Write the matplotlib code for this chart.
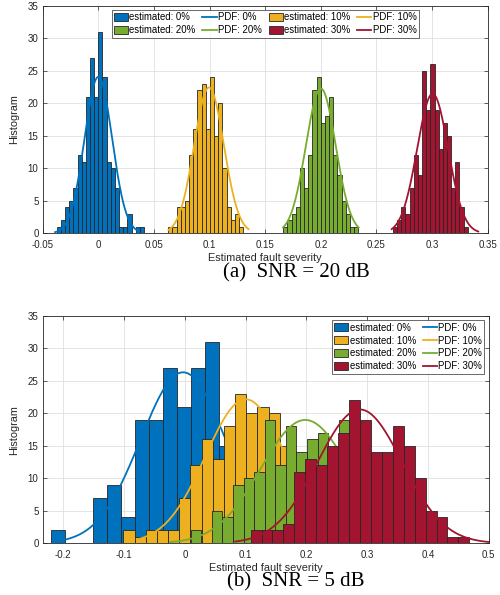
import matplotlib
matplotlib.use("Agg")
import matplotlib.pyplot as plt
import numpy as np

plt.rcParams["font.family"] = ["Liberation Sans", "DejaVu Sans"]

COLORS = ["#0072BD", "#EDB120", "#77AC30", "#A2142F"]
LEVELS = ["0%", "10%", "20%", "30%"]
N_SAMPLES = 200
TXT = "#262626"

# --- (a) SNR = 20 dB -------------------------------------------------------
a_start = [-0.0374, 0.0629, 0.1663, 0.2648]
a_width = [0.00374, 0.00374, 0.00374, 0.00374]
a_blue = [1, 2, 4, 5, 7, 12, 11, 21, 27, 21, 31, 24, 11, 10, 7, 1, 1, 3, 0, 1, 1]
a_yellow = [1, 1, 4, 4, 5, 12, 16, 22, 23, 16, 24, 15, 20, 10, 4, 2, 3, 1]
a_green = [1, 2, 3, 4, 10, 7, 12, 22, 24, 17, 18, 21, 12, 9, 5, 3, 1, 1]
a_red = [1, 2, 4, 3, 7, 12, 9, 25, 19, 26, 19, 13, 17, 15, 7, 11, 4, 1]
a_mu = [0.0, 0.0995, 0.2, 0.3005]
a_sigma = [0.0124, 0.0133, 0.0134, 0.0139]
a_lo = [-0.0389, 0.063, 0.166, 0.2637]
a_hi = [0.036, 0.135, 0.234, 0.3415]
a_xticks = [-0.05, 0, 0.05, 0.1, 0.15, 0.2, 0.25, 0.3, 0.35]
a_xticklabels = ["-0.05", "0", "0.05", "0.1", "0.15", "0.2", "0.25", "0.3", "0.35"]

# --- (b) SNR = 5 dB --------------------------------------------------------
b_start = [-0.2207, -0.1013, 0.0096, 0.1081]
b_width = [0.0231, 0.0184, 0.0174, 0.0180]
b_blue = [2, 0, 0, 7, 9, 4, 19, 19, 27, 21, 27, 31, 15, 9, 6, 3, 1]
b_yellow = [2, 1, 2, 2, 2, 7, 12, 16, 13, 18, 23, 20, 21, 20, 15, 10, 8, 5, 2, 1]
b_green = [2, 0, 5, 4, 9, 10, 11, 19, 12, 18, 14, 16, 17, 14, 19, 10, 8, 6, 4, 2]
b_red = [2, 2, 2, 3, 11, 13, 12, 15, 17, 22, 19, 14, 14, 18, 15, 10, 5, 4, 1, 1]
b_mu = [-0.003, 0.1, 0.198, 0.288]
b_sigma = [0.070, 0.0662, 0.0731, 0.0697]
b_lo = [-0.197, -0.079, -0.024, 0.083]
b_hi = [0.2, 0.3, 0.42, 0.5]
b_xticks = [-0.2, -0.1, 0, 0.1, 0.2, 0.3, 0.4, 0.5]
b_xticklabels = ["-0.2", "-0.1", "0", "0.1", "0.2", "0.3", "0.4", "0.5"]

y_ticks = [0, 5, 10, 15, 20, 25, 30, 35]


def draw_panel(ax, starts, widths, counts, mus, sigmas, los, his, xlim, xticks, xticklabels):
    handles = []
    for i, cnt in enumerate(counts):
        cnt = np.asarray(cnt, dtype=float)
        left = starts[i] + widths[i] * np.arange(len(cnt))
        bars = ax.bar(left, cnt, width=widths[i], align="edge", color=COLORS[i],
                      edgecolor=TXT, linewidth=0.6, label=f"estimated: {LEVELS[i]}", zorder=2)
        # fitted normal pdf scaled to the histogram counts
        x = np.linspace(los[i], his[i], 300)
        pdf = np.exp(-0.5 * ((x - mus[i]) / sigmas[i]) ** 2) / (sigmas[i] * np.sqrt(2 * np.pi))
        line, = ax.plot(x, pdf * N_SAMPLES * widths[i], color=COLORS[i], lw=1.3,
                        label=f"PDF: {LEVELS[i]}", zorder=2)
        handles += [bars, line]
    ax.set_xlim(*xlim)
    ax.set_ylim(0, 35)
    ax.set_xticks(xticks)
    ax.set_xticklabels(xticklabels)
    ax.set_yticks(y_ticks)
    ax.grid(True, color="#DFDFDF", lw=0.6, zorder=0)
    ax.set_axisbelow(True)
    ax.tick_params(direction="in", length=3, width=0.5, top=True, right=True,
                   labelsize=7, colors=TXT, pad=4.5)
    ax.tick_params(axis="y", pad=3)
    for s in ax.spines.values():
        s.set_color(TXT)
        s.set_linewidth(0.6)
    ax.set_xlabel("Estimated fault severity", fontsize=7.8, color=TXT)
    ax.set_ylabel("Histogram", fontsize=7.8, color=TXT)
    ax.xaxis.set_label_coords(0.5, -0.088)
    ax.yaxis.set_label_coords(-0.052, 0.5)
    return handles


fig = plt.figure(figsize=(5.0, 5.95), dpi=100)
ax_a = fig.add_axes([0.0854, 0.6079, 0.89, 0.3824])
ax_b = fig.add_axes([0.0854, 0.0869, 0.892, 0.382])

h_a = draw_panel(ax_a, a_start, a_width, [a_blue, a_yellow, a_green, a_red],
                 a_mu, a_sigma, a_lo, a_hi, (-0.05, 0.35), a_xticks, a_xticklabels)
h_b = draw_panel(ax_b, b_start, b_width, [b_blue, b_yellow, b_green, b_red],
                 b_mu, b_sigma, b_lo, b_hi, (-0.234, 0.5), b_xticks, b_xticklabels)

leg_kw = dict(fontsize=6.9, frameon=True, fancybox=False, handlelength=1.5, handleheight=0.9,
              handletextpad=0.12, columnspacing=0.7, labelspacing=0.3, borderpad=0.25,
              borderaxespad=0.45)

# (a): 4 columns filled row by row
order_a = [0, 4, 1, 5, 2, 6, 3, 7]
leg = ax_a.legend([h_a[k] for k in order_a], [h_a[k].get_label() for k in order_a],
                  ncol=4, loc="upper center", **leg_kw)
leg.get_frame().set_edgecolor(TXT)
leg.get_frame().set_linewidth(0.6)

# (b): 2 columns, estimated on the left, PDF on the right
order_b = [0, 2, 4, 6, 1, 3, 5, 7]
leg = ax_b.legend([h_b[k] for k in order_b], [h_b[k].get_label() for k in order_b],
                  ncol=2, loc="upper right", **leg_kw)
leg.get_frame().set_edgecolor(TXT)
leg.get_frame().set_linewidth(0.6)

fig.text(0.592, 1 - 273 / 595, "(a)  SNR = 20 dB", ha="center", va="center",
         fontsize=15, family=["Liberation Serif", "DejaVu Serif"], color="black")
fig.text(0.592, 1 - 582 / 595, "(b)  SNR = 5 dB", ha="center", va="center",
         fontsize=15, family=["Liberation Serif", "DejaVu Serif"], color="black")

fig.savefig("out.png", dpi=100)
